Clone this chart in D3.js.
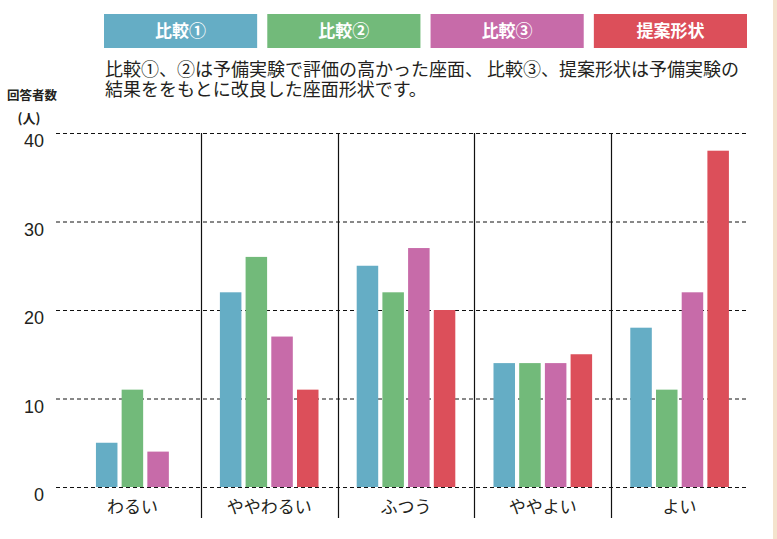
<!DOCTYPE html>
<html><head><meta charset="utf-8">
<script src="https://cdn.jsdelivr.net/npm/d3@7"></script>
<style>
html,body{margin:0;padding:0;background:#fff;}
svg{display:block;}
text{font-family:"Noto Sans CJK JP","Noto Sans",sans-serif;}
</style></head>
<body>
<svg id="c" width="777" height="539"></svg>
<script>
const categories = ["わるい","ややわるい","ふつう","ややよい","よい"];
const seriesNames = ["比較①","比較②","比較③","提案形状"];
const seriesColors = ["#65adc5","#72ba7a","#c76ba9","#dc4f5a"];
const values = {
  "比較①":   [5, 22, 25, 14, 18],
  "比較②":   [11, 26, 22, 14, 11],
  "比較③":   [4, 17, 27, 14, 22],
  "提案形状": [0, 11, 20, 15, 38]
};
const yTicks = [0, 10, 20, 30, 40];
const noteLines = ["比較①、②は予備実験で評価の高かった座面、 比較③、提案形状は予備実験の","結果ををもとに改良した座面形状です。"];
const yTitle = ["回答者数","(人)"];

const svg = d3.select("#c");
const ink = "#231f20";

// right beige strip
svg.append("rect").attr("x",773).attr("y",0).attr("width",4).attr("height",539).attr("fill","#f4e3cd");

const x = d3.scaleBand().domain(categories).range([64, 748]).padding(0);
const y = d3.scaleLinear().domain([0, 40]).range([487, 133]);
const step = 25.7, gapP = 0.163;

// gridlines
svg.append("g").selectAll("line").data(yTicks).join("line")
  .attr("x1",56).attr("x2",747)
  .attr("y1",d=>y(d)+0.5).attr("y2",d=>y(d)+0.5)
  .attr("stroke","#111").attr("stroke-width",1).attr("stroke-dasharray","4,3");

// y tick labels
svg.append("g").selectAll("text").data(yTicks).join("text")
  .attr("x",44).attr("y",d=>y(d)+14)
  .attr("text-anchor","end")
  .style("font-family","'Liberation Sans',Arial,sans-serif")
  .style("font-size","18px").attr("fill",ink)
  .text(d=>d);

// separators
svg.append("g").selectAll("line").data(categories.slice(1)).join("line")
  .attr("x1",d=>Math.round(x(d))+0.5).attr("x2",d=>Math.round(x(d))+0.5)
  .attr("y1",y(40)).attr("y2",518)
  .attr("stroke","#111").attr("stroke-width",1.2);

// bars
categories.forEach((cat,ci)=>{
  const present = seriesNames.filter(s=>values[s][ci]>0);
  const n = present.length;
  const W = step*(n - gapP);
  const cx = x(cat) + x.bandwidth()/2;
  const inner = d3.scaleBand().domain(present).range([cx - W/2, cx + W/2]).paddingInner(gapP).paddingOuter(0);
  svg.append("g").selectAll("rect").data(present).join("rect")
    .attr("x",s=>inner(s)).attr("width",inner.bandwidth())
    .attr("y",s=>y(values[s][ci])).attr("height",s=>y(0)-y(values[s][ci]))
    .attr("fill",s=>seriesColors[seriesNames.indexOf(s)]);
});

// category labels
svg.append("g").selectAll("text").data(categories).join("text")
  .attr("x",d=>x(d)+x.bandwidth()/2).attr("y",513)
  .attr("text-anchor","middle").style("font-size","17px").attr("fill",ink)
  .text(d=>d);

// legend
const lg = d3.scaleBand().domain(seriesNames).range([104, 747]).paddingInner(0.062);
const leg = svg.append("g").selectAll("g").data(seriesNames).join("g");
leg.append("rect").attr("x",d=>lg(d)).attr("y",14).attr("width",lg.bandwidth()).attr("height",34)
  .attr("fill",(d,i)=>seriesColors[i]);
leg.append("text").attr("x",d=>lg(d)+lg.bandwidth()/2).attr("y",37)
  .attr("text-anchor","middle").attr("fill","#fff")
  .style("font-size","17px").style("font-weight","bold").text(d=>d);

// note (one text block, two lines)
const note = svg.append("text").attr("x",105).attr("y",76)
  .style("font-size","18px").attr("fill",ink);
note.selectAll("tspan").data(noteLines).join("tspan")
  .attr("x",105).attr("dy",(d,i)=>i===0?0:20)
  .text(d=>d);

// y title
svg.append("text").attr("x",32).attr("y",100).attr("text-anchor","middle")
  .style("font-size","12.5px").style("font-weight","bold").attr("fill",ink).text(yTitle[0]);
svg.append("text").attr("x",29).attr("y",123).attr("text-anchor","middle")
  .style("font-size","13px").style("font-weight","bold").attr("fill",ink).text(yTitle[1]);
</script>
</body></html>
